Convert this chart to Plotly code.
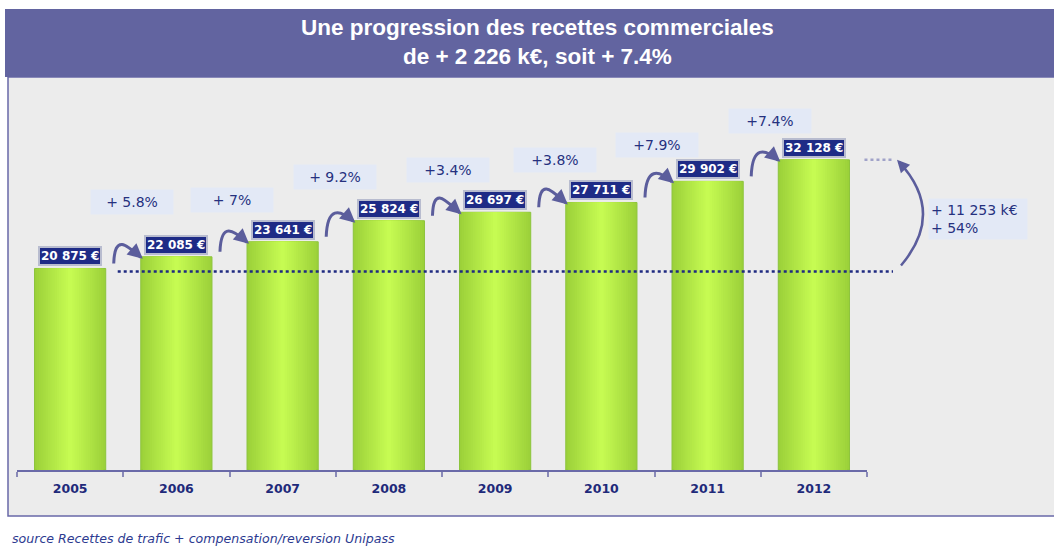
import plotly.graph_objects as go

# ---------------- data ----------------
years = ["2005", "2006", "2007", "2008", "2009", "2010", "2011", "2012"]
revenue_keur = [20875, 22085, 23641, 25824, 26697, 27711, 29902, 32128]
growth_labels = ["+ 5.8%", "+ 7%", "+ 9.2%", "+3.4%", "+3.8%", "+7.9%", "+7.4%"]
title_lines = ["Une progression des recettes commerciales", "de + 2 226 k€, soit + 7.4%"]
source_text = "source Recettes de trafic + compensation/reversion Unipass"

# ---------------- layout geometry (pixels) ----------------
W, H = 1054, 558
PL, PR, PT, PB = 17, 867, 80, 470
YMAX = 40400
N = len(years)
CAT = (PR - PL) / N
BAR_W = 0.67
HALF_PX = BAR_W * CAT / 2

# growth label offsets (px) relative to the centre/top of the bar they precede
PCT_DX = [-44, -51, -54, -47, -46, -51, -44]
PCT_DY = [55, 42, 44, 42, 42, 36, 39]


def xp(px):
    return (px - PL) / (PR - PL)


def yp(py):
    return (PB - py) / (PB - PT)


def yd(py):
    return YMAX * (PB - py) / (PB - PT)


def ypx(v):
    return PB - v * (PB - PT) / YMAX


def cx(i):
    return PL + (i + 0.5) * CAT


def fmt(v):
    return f"{v:,}".replace(",", " ")


def mix(c1, c2, t):
    return "rgb(%d,%d,%d)" % tuple(round(a + (b - a) * t) for a, b in zip(c1, c2))


NAVY = "#1e2b86"
ARROW = "#5b5d9c"
EDGE = (0x9c, 0xd1, 0x3a)
CENTER = (0xc6, 0xfb, 0x52)

fig = go.Figure()

# gradient bars: overlaid bars of decreasing width
LAYERS = 16
for k in range(LAYERS):
    t = k / (LAYERS - 1)
    w = BAR_W * (1 - k / LAYERS)
    fig.add_bar(
        x=years, y=revenue_keur, width=w,
        marker=dict(color=mix(EDGE, CENTER, t),
                    line=dict(width=1 if k == 0 else 0, color="#8cc43c")),
        hoverinfo="skip", showlegend=False,
    )

shapes = []
# panel
shapes.append(dict(type="rect", xref="paper", yref="paper", layer="below",
                   x0=xp(8), x1=xp(1080), y0=yp(516), y1=yp(77),
                   fillcolor="#ececec", line=dict(color="#6868a8", width=1.5)))
# title band
shapes.append(dict(type="rect", xref="paper", yref="paper", layer="below",
                   x0=xp(5), x1=xp(1080), y0=yp(77), y1=yp(9),
                   fillcolor="#6264a0", line=dict(width=0)))

px_unit = YMAX / (PB - PT)
# dotted reference line at first-year level
shapes.append(dict(type="line", xref="paper", yref="y",
                   x0=xp(cx(0) + HALF_PX + 12), x1=xp(893),
                   y0=revenue_keur[0] - 3 * px_unit, y1=revenue_keur[0] - 3 * px_unit,
                   line=dict(color="#1f2a80", width=2.5, dash="3px,3px")))
# light dotted line at last-year level
shapes.append(dict(type="line", xref="paper", yref="y",
                   x0=xp(cx(N - 1) + HALF_PX + 15), x1=xp(893),
                   y0=revenue_keur[-1], y1=revenue_keur[-1],
                   line=dict(color="#a0a2c8", width=2.5, dash="3px,3px")))

annotations = []

# small curved arrows between bars
for i in range(1, N):
    sx = cx(i - 1) + HALF_PX + 8
    sy = ypx(revenue_keur[i - 1]) - 5
    tx = cx(i) - HALF_PX + 2
    ty = ypx(revenue_keur[i]) + 2
    p1 = (sx + 1, sy - 30)
    p2 = (tx - 16, ty - 14)
    path = "M {},{} C {},{} {},{} {},{}".format(
        xp(sx), yd(sy), xp(p1[0]), yd(p1[1]), xp(p2[0]), yd(p2[1]), xp(tx - 2), yd(ty - 1.5))
    shapes.append(dict(type="path", xref="paper", yref="y", path=path,
                       line=dict(color=ARROW, width=3)))
    dx, dy = tx - p2[0], ty - p2[1]
    L = (dx * dx + dy * dy) ** 0.5
    annotations.append(dict(xref="paper", yref="y", x=xp(tx), y=yd(ty), text="",
                            showarrow=True, arrowhead=2, arrowsize=1, arrowwidth=3,
                            arrowcolor=ARROW, ax=-dx / L * 9, ay=-dy / L * 9,
                            standoff=0))

# big arrow on the right
bsx, bsy = 901, ypx(revenue_keur[0]) - 3
btx, bty = 897, ypx(revenue_keur[-1])
bcx, bcy = 946, (bsy + bty) / 2
shapes.append(dict(type="path", xref="paper", yref="y",
                   path="M {},{} Q {},{} {},{}".format(xp(bsx), yd(bsy), xp(bcx), yd(bcy),
                                                        xp(btx + 2), yd(bty + 2)),
                   line=dict(color=ARROW, width=2.5)))
bdx, bdy = btx - bcx, bty - bcy
bL = (bdx * bdx + bdy * bdy) ** 0.5
annotations.append(dict(xref="paper", yref="y", x=xp(btx), y=yd(bty), text="",
                        showarrow=True, arrowhead=2, arrowsize=1, arrowwidth=2.5,
                        arrowcolor=ARROW, ax=-bdx / bL * 10, ay=-bdy / bL * 10,
                        standoff=0))

# value labels
for i, v in enumerate(revenue_keur):
    annotations.append(dict(xref="paper", yref="y", x=xp(cx(i)), y=v,
                            xanchor="center", yanchor="bottom", yshift=2,
                            text=f"{fmt(v)} €", showarrow=False,
                            font=dict(family="DejaVu Sans", size=12, color="white", weight="bold"),
                            bgcolor=NAVY, bordercolor="#b8bccf", borderwidth=2, borderpad=1))

# growth labels
for j, lab in enumerate(growth_labels):
    i = j + 1
    annotations.append(dict(xref="paper", yref="y", x=xp(cx(i) + PCT_DX[j]),
                            y=revenue_keur[i], yshift=PCT_DY[j],
                            xanchor="center", yanchor="middle",
                            text=lab, showarrow=False, width=78, height=20, borderpad=2,
                            bgcolor="#e3e9f6",
                            font=dict(family="DejaVu Sans", size=14, color="#26317f")))

# total growth box
delta = revenue_keur[-1] - revenue_keur[0]
pct = round(100 * delta / revenue_keur[0])
annotations.append(dict(xref="paper", yref="y", x=xp(928), y=yd(218.5),
                        xanchor="left", yanchor="middle", align="left",
                        text=f"+ {fmt(delta)} k€<br>+ {pct}%", showarrow=False,
                        width=94, height=36, borderpad=2, bgcolor="#e3e9f6",
                        font=dict(family="DejaVu Sans", size=14, color="#26317f")))

# title
annotations.append(dict(xref="paper", yref="paper", x=xp(537), y=yp(42),
                        xanchor="center", yanchor="middle",
                        text="<br>".join(title_lines), showarrow=False,
                        font=dict(family="Liberation Sans", size=22.5, color="white", weight="bold")))

# source
annotations.append(dict(xref="paper", yref="paper", x=xp(10), y=yp(538),
                        xanchor="left", yanchor="middle",
                        text=f"<i>{source_text}</i>", showarrow=False,
                        font=dict(family="DejaVu Sans", size=12.6, color="#2c3a90")))

fig.update_layout(
    width=W, height=H,
    margin=dict(l=PL, r=W - PR, t=PT, b=H - PB, pad=0),
    barmode="overlay",
    paper_bgcolor="white",
    plot_bgcolor="#ececec",
    shapes=shapes,
    annotations=annotations,
    xaxis=dict(type="category", range=[-0.5, N - 0.5], tickson="boundaries",
               ticks="outside", ticklen=5, tickcolor="#8a8ab8", tickwidth=1.5,
               ticklabelstandoff=6,
               showline=True, linecolor="#6a6aa8", linewidth=1.5, showgrid=False,
               tickfont=dict(family="DejaVu Sans", size=12.5, color="#1f2a7a", weight="bold")),
    yaxis=dict(range=[0, YMAX], visible=False, showgrid=False),
)

fig.write_html("out.html", config={"displayModeBar": False},
               post_script="document.body.style.margin='0';document.body.style.overflow='hidden';")
